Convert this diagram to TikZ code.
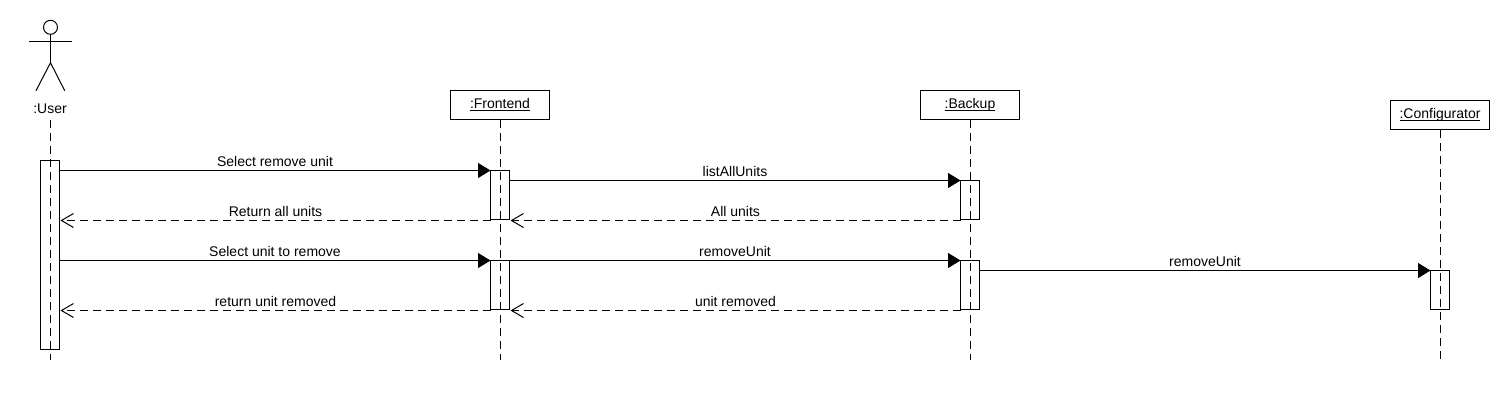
\documentclass[tikz,border=0pt]{standalone}
\usepackage{fontspec}
\setmainfont{Liberation Sans}
\usetikzlibrary{arrows.meta}
\newcommand{\objname}[1]{\setbox0\hbox{#1}\rlap{\rule[-1.6pt]{\wd0}{0.8pt}}\box0}
\tikzset{
  x=1pt,y=-1pt,
  every path/.style={line width=1pt},
  obj/.style={draw,fill=white,minimum width=99pt,minimum height=29pt,inner sep=0pt,outer sep=0pt,text height=10.4pt,text depth=3pt,font=\fontsize{14}{16}\selectfont},
  life/.style={draw,dash pattern=on 8pt off 5pt},
  actbox/.style={draw,minimum width=19pt,inner sep=0pt,outer sep=0pt,anchor=north},
  call/.style={draw,-{Triangle[length=12.5pt,width=15pt]}},
  reply/.style={draw,dash pattern=on 8pt off 5pt,-{Straight Barb[length=12pt,width=14pt]}},
  lab/.style={font=\fontsize{14}{16}\selectfont,inner sep=0pt}
}
\begin{document}
\begin{tikzpicture}
\useasboundingbox (0,0) rectangle (1510,400);
\fill[white] (0,0) rectangle (1510,400);
% actor
\node[draw,circle,minimum size=14pt,inner sep=0pt] (head) at (50.5,27.3) {};
\coordinate (armL) at (29,41.5);
\coordinate (armR) at (72,41.5);
\coordinate (hip) at (50.5,62.7);
\coordinate (legL) at (36,90.7);
\coordinate (legR) at (64.7,90.7);
\draw (head.south) -- (hip);
\draw (armL) -- (armR);
\draw (legL) -- (hip) -- (legR);
\node[lab] (user) at (50,108.5) {:User};
% objects
\node[obj] (fe) at (500,105) {\objname{:Frontend}};
\node[obj] (bk) at (970,105) {\objname{:Backup}};
\node[obj] (cf) at (1440,115) {\objname{:Configurator}};
% lifeline ends
\coordinate (uEnd) at (50.5,360);
\coordinate (fStart) at (500.5,120);
\coordinate (bStart) at (970.5,120);
\coordinate (cStart) at (1440.5,130);
\coordinate (fEnd) at (500.5,360);
\coordinate (bEnd) at (970.5,360);
\coordinate (cEnd) at (1440.5,360);
\coordinate (uStart) at (50.5,120);
\draw[life] (uStart) -- (uEnd);
\draw[life] (fStart) -- (fEnd);
\draw[life] (bStart) -- (bEnd);
\draw[life] (cStart) -- (cEnd);
% activations
\node[actbox,minimum height=189pt] (u1) at (50,160.5) {};
\node[actbox,minimum height=49pt] (f1) at (500,170.5) {};
\node[actbox,minimum height=49pt] (f2) at (500,260.5) {};
\node[actbox,minimum height=39pt] (b1) at (970,180.5) {};
\node[actbox,minimum height=49pt] (b2) at (970,260.5) {};
\node[actbox,minimum height=39pt] (c1) at (1440,270.5) {};
% message levels
\coordinate (m1) at (0,170.5);
\coordinate (m2) at (0,180.5);
\coordinate (m3) at (0,220.5);
\coordinate (m4) at (0,260.5);
\coordinate (m5) at (0,270.5);
\coordinate (m6) at (0,310.5);
% messages
\draw[call] (u1.east |- m1) -- node[lab,above=3pt] {Select remove unit} (f1.west |- m1);
\draw[call] (f1.east |- m2) -- node[lab,above=3pt] {listAllUnits} (b1.west |- m2);
\draw[reply] (b1.west |- m3) -- node[lab,above=3pt] {All units} ([xshift=1pt]f1.east |- m3);
\draw[reply] (f1.west |- m3) -- node[lab,above=3pt] {Return all units} ([xshift=1pt]u1.east |- m3);
\draw[call] (u1.east |- m4) -- node[lab,above=3pt] {Select unit to remove} (f2.west |- m4);
\draw[call] (f2.east |- m4) -- node[lab,above=3pt] {removeUnit} (b2.west |- m4);
\draw[call] (b2.east |- m5) -- node[lab,above=3pt] {removeUnit} (c1.west |- m5);
\draw[reply] (b2.west |- m6) -- node[lab,above=3pt] {unit removed} ([xshift=1pt]f2.east |- m6);
\draw[reply] (f2.west |- m6) -- node[lab,above=3pt] {return unit removed} ([xshift=1pt]u1.east |- m6);
\end{tikzpicture}
\end{document}
